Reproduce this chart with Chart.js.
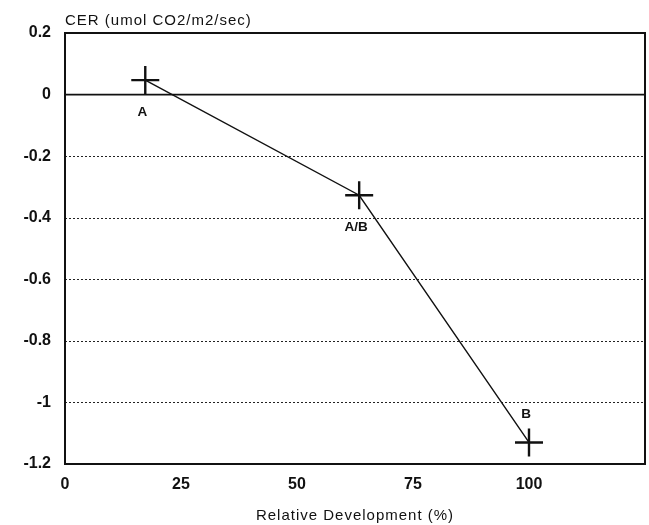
<!DOCTYPE html>
<html>
<head>
<meta charset="utf-8">
<script src="https://cdn.jsdelivr.net/npm/chart.js@4/dist/chart.umd.min.js"></script>
<style>
  html, body { margin: 0; padding: 0; background: #fff; }
  #wrap { width: 649px; height: 525px; }
</style>
</head>
<body>
<div id="wrap"><canvas id="c" width="649" height="525"></canvas></div>
<script>
// Relative development (%) and CO2 exchange rate per stage
const stages = ['A', 'A/B', 'B'];
const development = [17.3, 63.4, 100];
const cer = [0.047, -0.327, -1.13];
// label placement relative to each point: below or above
const labelSide = ['below', 'below', 'above'];

const yTicks = [0.2, 0, -0.2, -0.4, -0.6, -0.8, -1, -1.2];
const xTicks = [0, 25, 50, 75, 100];
const yTitle = 'CER (umol CO2/m2/sec)';
const xTitle = 'Relative Development (%)';

const FONT = '"Liberation Sans", Arial, sans-serif';

const points = development.map((x, i) => ({ x, y: cer[i] }));

const decor = {
  id: 'decor',
  beforeDatasetsDraw(chart) {
    const { ctx, chartArea: a, scales: { y } } = chart;
    ctx.save();
    // dotted horizontal grid
    ctx.strokeStyle = '#222';
    ctx.lineWidth = 1;
    ctx.setLineDash([2, 2]);
    yTicks.forEach(v => {
      if (v === 0 || v === 0.2 || v === -1.2) return;
      const py = Math.round(y.getPixelForValue(v)) + 0.5;
      ctx.beginPath(); ctx.moveTo(a.left, py); ctx.lineTo(a.right, py); ctx.stroke();
    });
    // solid zero line
    ctx.setLineDash([]);
    ctx.strokeStyle = '#111';
    ctx.lineWidth = 1.8;
    const z = y.getPixelForValue(0);
    ctx.beginPath(); ctx.moveTo(a.left, z); ctx.lineTo(a.right, z); ctx.stroke();
    // frame
    ctx.lineWidth = 2;
    ctx.strokeRect(a.left, a.top, a.right - a.left, a.bottom - a.top);
    ctx.restore();
  },
  afterDatasetsDraw(chart) {
    const { ctx, chartArea: a, scales: { x, y } } = chart;
    ctx.save();
    ctx.fillStyle = '#111';
    ctx.font = 'bold 13.5px ' + FONT;
    ctx.textAlign = 'center';
    stages.forEach((s, i) => {
      const px = x.getPixelForValue(development[i]) - 3;
      const py = y.getPixelForValue(cer[i]);
      if (labelSide[i] === 'below') {
        ctx.textBaseline = 'top';
        ctx.fillText(s, px, py + 25);
      } else {
        ctx.textBaseline = 'bottom';
        ctx.fillText(s, px, py - 21);
      }
    });
    // axis titles
    ctx.font = '15px ' + FONT;
    ctx.letterSpacing = '1px';
    ctx.textAlign = 'left';
    ctx.textBaseline = 'alphabetic';
    ctx.fillText(yTitle, a.left, 25);
    ctx.textAlign = 'center';
    ctx.fillText(xTitle, 355, 520);
    ctx.restore();
  }
};

new Chart(document.getElementById('c'), {
  type: 'scatter',
  data: {
    datasets: [{
      data: points,
      showLine: true,
      borderColor: '#111',
      borderWidth: 1.4,
      pointStyle: 'cross',
      pointRadius: 14,
      pointBorderWidth: 2.4,
      pointBorderColor: '#111',
      pointBackgroundColor: '#111',
      tension: 0
    }]
  },
  options: {
    responsive: false,
    animation: false,
    layout: { autoPadding: false, padding: { top: 33, right: 4, left: 0, bottom: 0 } },
    plugins: { legend: { display: false }, tooltip: { enabled: false } },
    scales: {
      x: {
        type: 'linear',
        min: 0, max: 125,
        afterBuildTicks(scale) { scale.ticks = xTicks.map(v => ({ value: v })); },
        afterFit(scale) { scale.height = 61; },
        grid: { display: false, drawTicks: false },
        border: { display: false },
        ticks: {
          color: '#111',
          padding: 11,
          maxRotation: 0,
          font: { family: FONT, size: 16, weight: 'bold' }
        }
      },
      y: {
        type: 'linear',
        min: -1.2, max: 0.2,
        afterBuildTicks(scale) { scale.ticks = yTicks.map(v => ({ value: v })); },
        afterFit(scale) { scale.width = 65; },
        grid: { display: false, drawTicks: false },
        border: { display: false },
        ticks: {
          color: '#111',
          padding: 14,
          font: { family: FONT, size: 16, weight: 'bold' },
          callback: v => String(Math.round(v * 10) / 10)
        }
      }
    }
  },
  plugins: [decor]
});
</script>
</body>
</html>
